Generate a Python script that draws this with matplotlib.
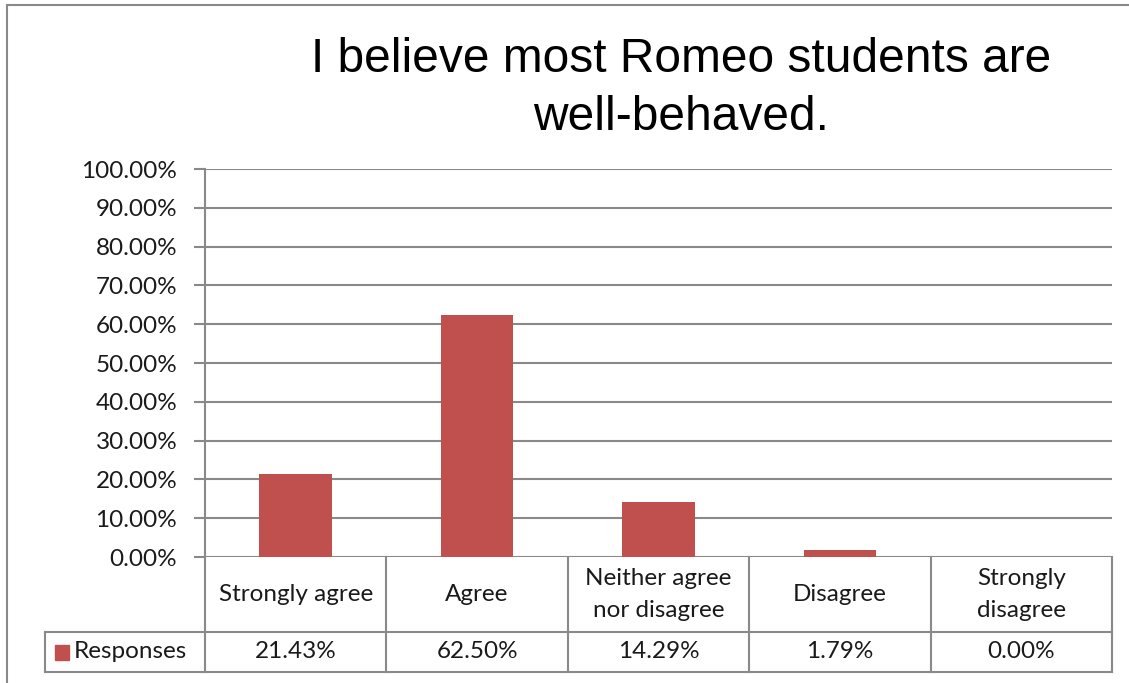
import matplotlib.pyplot as plt
from matplotlib.lines import Line2D
from matplotlib.patches import Rectangle

# data
categories = ["Strongly agree", "Agree", "Neither agree\nnor disagree", "Disagree", "Strongly\ndisagree"]
responses = [21.43, 62.50, 14.29, 1.79, 0.00]
series_name = "Responses"
title = "I believe most Romeo students are\nwell-behaved."

W, H = 1129, 683
bar_color = "#C0504D"
line_color = "#898989"
lab_font = "Lato"
lab_size = 17.5

fig = plt.figure(figsize=(W / 100, H / 100), dpi=100)


def fx(px):
    return px / W


def fy(py):
    return 1 - py / H


def hline(y, x0, x1):
    fig.add_artist(Line2D([fx(x0), fx(x1)], [fy(y), fy(y)], color=line_color, lw=1.5))


def vline(x, y0, y1):
    fig.add_artist(Line2D([fx(x), fx(x)], [fy(y0), fy(y1)], color=line_color, lw=1.5))


# outer chart border (cropped at right/bottom in the reference)
fig.add_artist(Rectangle((fx(7), fy(700)), fx(1140) - fx(7), fy(5) - fy(700),
                         fill=False, edgecolor=line_color, lw=1.5))

# plot area
left, right, top, bottom = 205, 1112, 169, 557
ax = fig.add_axes([fx(left), fy(bottom), fx(right) - fx(left), fy(top) - fy(bottom)])
x = range(len(categories))
ax.bar(x, responses, width=0.4, color=bar_color, zorder=3)
ax.set_xlim(-0.5, len(categories) - 0.5)
ax.set_ylim(0, 100)
ax.set_yticks(range(0, 101, 10))
ax.set_yticklabels([f"{v:.2f}%" for v in range(0, 101, 10)], fontsize=lab_size,
                   family=lab_font, color="#1a1a1a")
ax.set_xticks([])
ax.yaxis.grid(True, color=line_color, lw=1.5, zorder=0)
ax.tick_params(axis="y", length=8, width=1.5, color=line_color, pad=12)
for s in ["top", "right", "bottom"]:
    ax.spines[s].set_visible(False)
ax.spines["left"].set_color(line_color)
ax.spines["left"].set_linewidth(1.5)

fig.suptitle(title, x=fx(681), y=fy(37), fontsize=34.5, family="Liberation Sans",
             va="top", linespacing=1.38)

# data table below the axis
row1, row2 = 632, 672
cell_w = (right - left) / len(categories)
for i in range(len(categories) + 1):
    vline(left + i * cell_w, bottom, row2)
vline(45, row1, row2)
hline(row1, 45, right)
hline(row2, 45, right)

for i, (cat, val) in enumerate(zip(categories, responses)):
    cx = fx(left + (i + 0.5) * cell_w)
    fig.text(cx, fy((bottom + row1) / 2), cat, ha="center", va="center",
             fontsize=lab_size, family=lab_font, color="#1a1a1a", linespacing=1.6)
    fig.text(cx, fy((row1 + row2) / 2), f"{val:.2f}%", ha="center", va="center",
             fontsize=lab_size, family=lab_font, color="#1a1a1a")

# legend key in the table
fig.add_artist(Rectangle((fx(55), fy(660)), fx(69) - fx(55), fy(645) - fy(660),
                         color=bar_color))
fig.text(fx(74), fy((row1 + row2) / 2), series_name, ha="left", va="center",
         fontsize=lab_size, family=lab_font, color="#1a1a1a")

fig.savefig("out.png", dpi=100, facecolor="white")
